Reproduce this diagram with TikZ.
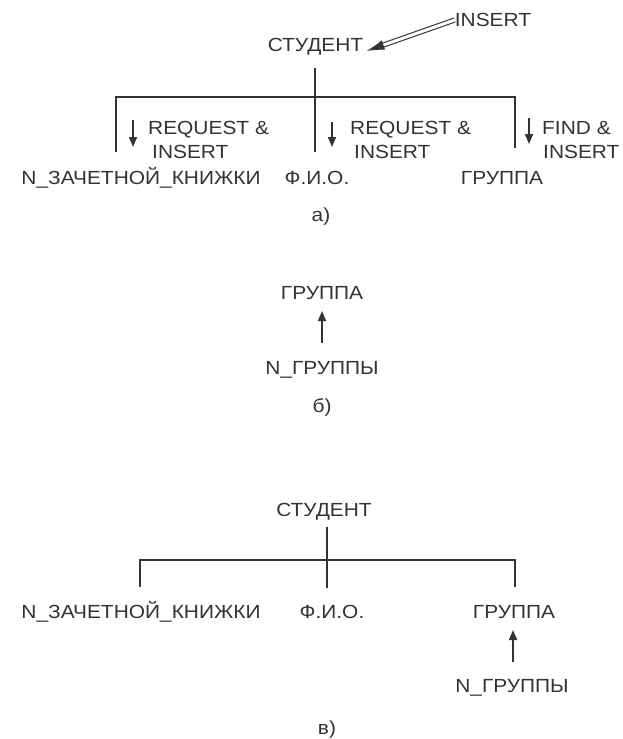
\documentclass[tikz,border=0pt]{standalone}
\usepackage{fontspec}
\setmainfont[FakeStretch=1.1]{Liberation Sans}
\usetikzlibrary{arrows.meta}
\definecolor{ink}{HTML}{333333}
\tikzset{
  lbl/.style={inner sep=0pt, text=ink, font=\fontsize{19}{24}\selectfont},
  note/.style={lbl, align=left, anchor=west},
  ln/.style={draw=ink, line width=1.7pt},
  arr/.style={draw=ink, line width=1.7pt, -{Triangle[length=10pt,width=8pt]}},
  dblarr/.style={draw=ink, line width=1.1pt, double=white, double distance=3pt, -{Latex[length=18pt,width=10pt]}}
}
\begin{document}
\begin{tikzpicture}[x=1pt,y=-1pt]
\useasboundingbox[fill=white] (0,0) rectangle (622,739);
% ---------- a)
\node[lbl] (insA) at (493,20) {INSERT};
\node[lbl] (stA) at (315.5,47) {СТУДЕНТ};
\node[lbl] (nzkA) at (141,178) {N\_ЗАЧЕТНОЙ\_КНИЖКИ};
\node[lbl] (fioA) at (317,178) {Ф.И.О.};
\node[lbl] (grA) at (502,178) {ГРУППА};
\node[note] (n1) at (148,140) {REQUEST \&\\\hspace*{4pt}INSERT};
\node[note] (n2) at (350,140) {REQUEST \&\\\hspace*{4pt}INSERT};
\node[note] (n3) at (542,140) {FIND \&\\\hspace*{1pt}INSERT};
\node[lbl] (capA) at (321,217) {а)};
\coordinate (topA) at (315,68);
\coordinate (jA) at (315,97);
\coordinate (lA) at (116,97);
\coordinate (rA) at (515,97);
\coordinate (lAe) at (116,152);
\coordinate (mAe) at (315,152);
\coordinate (rAe) at (515,148);
\draw[dblarr] (insA.west) -- ([xshift=3pt,yshift=-4pt]stA.east);
\draw[ln] (topA) -- (mAe);
\draw[ln] (lAe) -- (lA) -- (rA) -- (rAe);
\coordinate (a1s) at (133,120); \coordinate (a1e) at (133,147);
\coordinate (a2s) at (332,122); \coordinate (a2e) at (332,147);
\coordinate (a3s) at (529,118); \coordinate (a3e) at (529,144);
\draw[arr] (a1s) -- (a1e);
\draw[arr] (a2s) -- (a2e);
\draw[arr] (a3s) -- (a3e);
% ---------- b)
\node[lbl] (grB) at (322,293) {ГРУППА};
\node[lbl] (ngB) at (322,370) {N\_ГРУППЫ};
\node[lbl] (capB) at (322,407) {б)};
\coordinate (bS) at (322,343);
\coordinate (bE) at (322,311);
\draw[arr] (bS) -- (bE);
% ---------- c)
\node[lbl] (stC) at (324,512) {СТУДЕНТ};
\node[lbl] (nzkC) at (141,612) {N\_ЗАЧЕТНОЙ\_КНИЖКИ};
\node[lbl] (fioC) at (332,612) {Ф.И.О.};
\node[lbl] (grC) at (514,612) {ГРУППА};
\node[lbl] (ngC) at (512,688) {N\_ГРУППЫ};
\node[lbl] (capC) at (327,730) {в)};
\coordinate (topC) at (327,527);
\coordinate (mCe) at (327,588);
\coordinate (lC) at (140,560);
\coordinate (rC) at (515,560);
\coordinate (lCe) at (140,587);
\coordinate (rCe) at (515,587);
\draw[ln] (topC) -- (mCe);
\draw[ln] (lCe) -- (lC) -- (rC) -- (rCe);
\coordinate (cS) at (513,662);
\coordinate (cE) at (513,630);
\draw[arr] (cS) -- (cE);
\end{tikzpicture}
\end{document}
